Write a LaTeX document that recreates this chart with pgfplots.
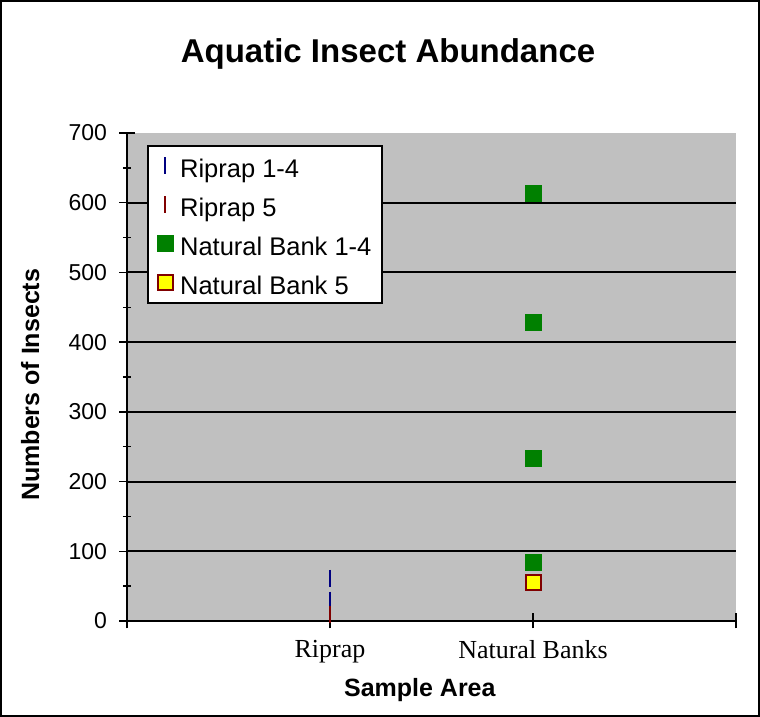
\documentclass[border=0pt]{standalone}
\usepackage{fontspec}
\setmainfont{Liberation Sans}
\newfontfamily\timesfont{Liberation Serif}
\usepackage{pgfplots}
\pgfplotsset{compat=1.18}
\definecolor{plotgray}{RGB}{192,192,192}
\definecolor{navyc}{RGB}{0,0,128}
\definecolor{maroonc}{RGB}{128,0,0}
\definecolor{greenc}{RGB}{0,128,0}
\definecolor{yellowc}{RGB}{255,255,0}
\begin{document}
\begin{tikzpicture}
\useasboundingbox (0pt,0pt) rectangle (760pt,717pt);
\draw[line width=2pt] (1pt,1pt) rectangle (759pt,716pt);
\begin{axis}[
  at={(127pt,96pt)}, anchor=south west,
  scale only axis, width=609pt, height=488pt,
  xmin=0, xmax=3, ymin=0, ymax=700,
  clip=false,
  axis background/.style={fill=plotgray},
  axis x line*=bottom, axis y line*=left,
  axis line style={line width=2pt, -},
  xtick={0,1,2,3}, xticklabels={,Riprap,Natural Banks,},
  x tick label style={font=\timesfont\fontsize{26}{30}\selectfont, yshift=-8pt},
  ytick={0,100,...,700},
  minor y tick num=1,
  y tick label style={font=\fontsize{23}{27}\selectfont, xshift=-9pt},
  /pgf/number format/assume math mode=true,
  tick align=center,
  major tick length=15pt, minor tick length=8pt,
  tick style={black, line width=1.5pt},
  extra y ticks={100,200,300,400,500,600},
  extra y tick labels={},
  extra y tick style={grid=major, major tick length=0pt, major grid style={black, line width=2pt}},
  title={\textbf{Aquatic Insect Abundance}},
  title style={font=\fontsize{33}{38}\selectfont, at={(axis description cs:0.4286,1.150)}, anchor=center},
  xlabel={\textbf{Sample Area}},
  ylabel={\textbf{Numbers of Insects}},
  xlabel style={font=\fontsize{25}{30}\selectfont, at={(axis description cs:0.481,-0.141)}, anchor=center},
  ylabel style={font=\fontsize{25}{30}\selectfont, at={(axis description cs:-0.159,0.484)}, anchor=center, rotate=0},
  legend style={at={(axis description cs:0.033,0.976)}, anchor=north west,
    draw=black, line width=2pt, fill=white, font=\fontsize{25.5}{30}\selectfont,
    row sep=9pt, column sep=5pt, inner xsep=9pt, inner ysep=5pt,
    nodes={text height=25pt, text depth=1pt}},
  legend cell align=left,
]
\addplot[only marks, mark=|, mark size=8.5pt, mark options={draw=navyc, line width=2.3pt}]
  coordinates {(1,61) (1,30) (1,27) (1,22)};
\addlegendentry{Riprap 1-4}
\addplot[only marks, mark=|, mark size=8.5pt, mark options={draw=maroonc, line width=2.3pt}]
  coordinates {(1,9)};
\addlegendentry{Riprap 5}
\addplot[only marks, mark=square*, mark size=8pt, mark options={draw=greenc, fill=greenc, line width=0.5pt}]
  coordinates {(2,613) (2,429) (2,233) (2,84)};
\addlegendentry{Natural Bank 1-4}
\addplot[only marks, mark=square*, mark size=7.5pt, mark options={draw=maroonc, fill=yellowc, line width=2pt}]
  coordinates {(2,55)};
\addlegendentry{Natural Bank 5}
\end{axis}
\end{tikzpicture}
\end{document}
